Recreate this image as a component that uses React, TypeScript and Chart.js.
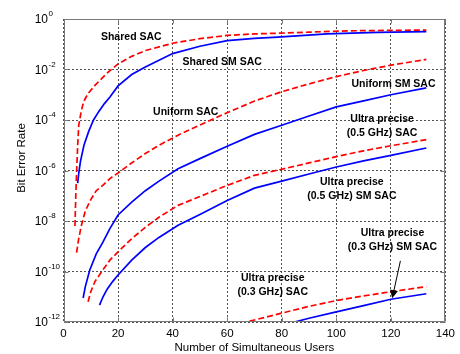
import React, { useEffect, useRef } from 'react';
import { Chart, registerables } from 'chart.js';

Chart.register(...registerables);

// ---- data (x = number of simultaneous users, values = log10(BER)) ----
const sharedSacX = [4.2, 4.5, 4.8, 5.2, 5.6, 6.5, 7.4, 9, 11.7, 15.9, 20, 25, 30, 40, 50, 60, 70, 80, 90, 104, 120, 133];
const sharedSacLog = [-8.2, -7.0, -6.05, -5.0, -4.2, -3.65, -3.27, -2.95, -2.61, -2.15, -1.78, -1.48, -1.25, -0.96, -0.78, -0.65, -0.59, -0.56, -0.52, -0.47, -0.45, -0.44];

const sharedSmX = [5.2, 5.6, 6.2, 7.5, 9.2, 11, 12.9, 15, 17.1, 20, 25, 30, 40, 50, 60, 70, 78.5, 96.7, 115, 133];
const sharedSmLog = [-6.5, -6.1, -5.65, -5.0, -4.46, -4.0, -3.67, -3.35, -3.08, -2.65, -2.2, -1.9, -1.37, -1.08, -0.86, -0.77, -0.72, -0.59, -0.53, -0.5];

const uniformSacX = [4.8, 5.5, 6.5, 8, 10, 12, 14.5, 17, 20, 25, 30, 35, 42, 50, 60, 70, 80, 90, 100, 110, 120, 133];
const uniformSacLog = [-9.25, -8.75, -8.2, -7.6, -7.15, -6.8, -6.58, -6.32, -6.1, -5.7, -5.33, -5.0, -4.6, -4.2, -3.71, -3.25, -2.88, -2.57, -2.28, -2.04, -1.83, -1.6];

const uniformSmX = [7.2, 8, 9.6, 12, 14.4, 17, 20, 25, 30, 35, 42, 50, 60, 70, 80, 90, 100, 110, 120, 133];
const uniformSmLog = [-11.05, -10.6, -9.95, -9.3, -8.85, -8.3, -7.76, -7.25, -6.8, -6.42, -5.93, -5.53, -5.04, -4.57, -4.21, -3.84, -3.48, -3.24, -3.0, -2.73];

const ultra05SacX = [9, 10, 11.5, 14.4, 17, 20, 25, 30, 35, 42, 50, 60, 70, 80, 90, 100, 110, 120, 133];
const ultra05SacLog = [-11.2, -10.8, -10.4, -9.94, -9.55, -9.22, -8.7, -8.25, -7.85, -7.38, -7.03, -6.59, -6.19, -5.95, -5.7, -5.45, -5.22, -5.02, -4.78];

const ultra05SmX = [13.2, 14.5, 16, 18, 20, 25, 30, 35, 42, 50, 60, 70, 80, 90, 100, 110, 120, 133];
const ultra05SmLog = [-11.33, -11.0, -10.7, -10.4, -10.14, -9.55, -9.05, -8.65, -8.17, -7.74, -7.19, -6.7, -6.42, -6.14, -5.86, -5.62, -5.4, -5.11];

const ultra03SacX = [65, 70, 80, 90, 100, 110, 120, 133];
const ultra03SacLog = [-12.05, -11.92, -11.65, -11.38, -11.15, -10.97, -10.8, -10.6];

const ultra03SmX = [83, 90, 100, 110, 120, 133];
const ultra03SmLog = [-12.05, -11.85, -11.6, -11.35, -11.1, -10.88];

const xTicks = [0, 20, 40, 60, 80, 100, 120, 140];
const yTickExps = [0, -2, -4, -6, -8, -10, -12];

const xTitle = 'Number of Simultaneous Users';
const yTitle = 'Bit Error Rate';

// annotation text blocks: [x (users), log10(BER), lines]
const annotations: { x: number; ly: number; lines: string[] }[] = [
  { x: 24.85, ly: -0.71, lines: ['Shared SAC'] },
  { x: 58.2, ly: -1.7, lines: ['Shared SM SAC'] },
  { x: 44.8, ly: -3.68, lines: ['Uniform SAC'] },
  { x: 120.96, ly: -2.57, lines: ['Uniform SM SAC'] },
  { x: 116.8, ly: -4.26, lines: ['Ultra precise', '(0.5 GHz) SAC'] },
  { x: 105.7, ly: -6.73, lines: ['Ultra precise', '(0.5 GHz) SM SAC'] },
  { x: 120.6, ly: -8.75, lines: ['Ultra precise', '(0.3 GHz) SM SAC'] },
  { x: 76.7, ly: -10.53, lines: ['Ultra precise', '(0.3 GHz) SAC'] },
];
const arrowFrom = { x: 123.5, ly: -9.58 };
const arrowTo = { x: 120.5, ly: -11.06 };

const FONT = "'Liberation Sans', Arial, Helvetica, sans-serif";
const RED = '#ff0000';
const BLUE = '#0000ff';

function pts(xs: number[], ls: number[]) {
  return xs.map((x, i) => ({ x, y: Math.pow(10, ls[i]) }));
}

function ds(label: string, xs: number[], ls: number[], dashed: boolean) {
  return {
    label,
    data: pts(xs, ls),
    borderColor: dashed ? RED : BLUE,
    borderWidth: 1.7,
    borderDash: dashed ? [6, 3] : [],
    pointRadius: 0,
    fill: false,
    tension: 0,
  };
}

const overlay = {
  id: 'overlay',
  afterDraw(chart: any) {
    const { ctx, chartArea: a, scales } = chart;
    const xs = scales.x;
    const ys = scales.y;
    ctx.save();
    ctx.setLineDash([]);
    // box
    const L = Math.round(a.left) + 0.5;
    const T = Math.round(a.top) + 0.5;
    const R = Math.round(a.right) - 0.5;
    const B = Math.round(a.bottom) - 0.5;
    ctx.strokeStyle = '#7a7a7a';
    ctx.lineWidth = 1;
    ctx.beginPath();
    ctx.rect(L, T, R - L, B - T);
    // inward ticks
    for (const v of xTicks) {
      const px = Math.round(xs.getPixelForValue(v)) + 0.5;
      ctx.moveTo(px, B); ctx.lineTo(px, B - 4);
      ctx.moveTo(px, T); ctx.lineTo(px, T + 4);
    }
    for (const e of yTickExps) {
      const py = Math.round(ys.getPixelForValue(Math.pow(10, e))) + 0.5;
      ctx.moveTo(L, py); ctx.lineTo(L + 4, py);
      ctx.moveTo(R, py); ctx.lineTo(R - 4, py);
    }
    ctx.stroke();

    // y tick labels with superscript exponents
    ctx.fillStyle = '#000';
    for (const e of yTickExps) {
      const py = ys.getPixelForValue(Math.pow(10, e));
      ctx.font = `12px ${FONT}`;
      ctx.textAlign = 'right';
      ctx.textBaseline = 'middle';
      ctx.fillText('10', a.left - 15.5, py + 1);
      ctx.font = `8px ${FONT}`;
      ctx.textAlign = 'left';
      ctx.fillText(e === 0 ? '0' : '-' + String(-e), a.left - 15, py - 5);
    }

    // axis titles
    ctx.font = `11.5px ${FONT}`;
    ctx.textAlign = 'center';
    ctx.textBaseline = 'middle';
    ctx.fillText(xTitle, (a.left + a.right) / 2, 348);
    ctx.save();
    ctx.translate(22, 158);
    ctx.rotate(-Math.PI / 2);
    ctx.fillText(yTitle, 0, 0);
    ctx.restore();

    // annotations
    ctx.font = `bold 10.5px ${FONT}`;
    for (const an of annotations) {
      const cx = xs.getPixelForValue(an.x);
      const cy = ys.getPixelForValue(Math.pow(10, an.ly));
      const n = an.lines.length;
      an.lines.forEach((t, i) => {
        ctx.fillText(t, cx, cy + (i - (n - 1) / 2) * 14);
      });
    }

    // arrow
    const x1 = xs.getPixelForValue(arrowFrom.x);
    const y1 = ys.getPixelForValue(Math.pow(10, arrowFrom.ly));
    const x2 = xs.getPixelForValue(arrowTo.x);
    const y2 = ys.getPixelForValue(Math.pow(10, arrowTo.ly));
    const ang = Math.atan2(y2 - y1, x2 - x1);
    const hl = 8, hw = 4;
    ctx.strokeStyle = '#000';
    ctx.lineWidth = 1;
    ctx.beginPath();
    ctx.moveTo(x1, y1);
    ctx.lineTo(x2 - Math.cos(ang) * hl * 0.8, y2 - Math.sin(ang) * hl * 0.8);
    ctx.stroke();
    ctx.beginPath();
    ctx.moveTo(x2, y2);
    ctx.lineTo(x2 - Math.cos(ang) * hl - Math.sin(ang) * hw, y2 - Math.sin(ang) * hl + Math.cos(ang) * hw);
    ctx.lineTo(x2 - Math.cos(ang) * hl + Math.sin(ang) * hw, y2 - Math.sin(ang) * hl - Math.cos(ang) * hw);
    ctx.closePath();
    ctx.fillStyle = '#000';
    ctx.fill();
    ctx.restore();
  },
};

export default function App() {
  const ref = useRef<HTMLCanvasElement | null>(null);
  useEffect(() => {
    if (!ref.current) return;
    const chart = new Chart(ref.current, {
      type: 'line',
      data: {
        datasets: [
          ds('Shared SAC', sharedSacX, sharedSacLog, true),
          ds('Shared SM SAC', sharedSmX, sharedSmLog, false),
          ds('Uniform SAC', uniformSacX, uniformSacLog, true),
          ds('Uniform SM SAC', uniformSmX, uniformSmLog, false),
          ds('Ultra precise (0.5 GHz) SAC', ultra05SacX, ultra05SacLog, true),
          ds('Ultra precise (0.5 GHz) SM SAC', ultra05SmX, ultra05SmLog, false),
          ds('Ultra precise (0.3 GHz) SAC', ultra03SacX, ultra03SacLog, true),
          ds('Ultra precise (0.3 GHz) SM SAC', ultra03SmX, ultra03SmLog, false),
        ] as any,
      },
      options: {
        animation: false,
        responsive: false,
        devicePixelRatio: 1,
        layout: { padding: { left: 0, top: 19, right: 11, bottom: 0 } },
        plugins: { legend: { display: false }, tooltip: { enabled: false } },
        events: [],
        scales: {
          x: {
            type: 'linear',
            min: 0,
            max: 140,
            afterBuildTicks: (s: any) => { s.ticks = xTicks.map((v) => ({ value: v })); },
            ticks: { color: '#000', font: { family: FONT, size: 11.5 }, padding: 5, maxRotation: 0 },
            grid: { color: '#505050', lineWidth: 1, drawTicks: false },
            border: { display: false, dash: [2, 2] },
            afterFit: (s: any) => { s.height = 32; },
          },
          y: {
            type: 'logarithmic',
            min: 1e-12,
            max: 1,
            afterBuildTicks: (s: any) => { s.ticks = yTickExps.map((e) => ({ value: Math.pow(10, e) })); },
            ticks: { display: false },
            grid: { color: '#505050', lineWidth: 1, drawTicks: false },
            border: { display: false, dash: [2, 2] },
            afterFit: (s: any) => { s.width = 63.5; },
          },
        },
      } as any,
      plugins: [overlay],
    });
    return () => chart.destroy();
  }, []);
  return (
    <div style={{ position: 'fixed', left: 0, top: 0, width: 460, height: 354, background: '#fff' }}>
      <canvas ref={ref} width={460} height={354} style={{ display: 'block' }} />
    </div>
  );
}
